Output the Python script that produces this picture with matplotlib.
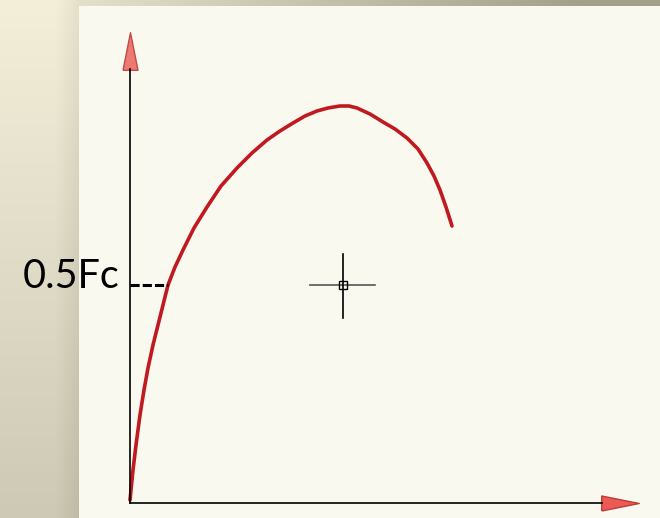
import numpy as np
import matplotlib
matplotlib.use("Agg")
import matplotlib.pyplot as plt
from matplotlib.patches import Rectangle

# stress-strain curve (units ~ pixels from the origin)
strain = [0, 1, 3, 6, 10, 14, 18, 23, 28, 33, 38, 45, 53, 64, 77, 91, 107, 122,
          137, 150, 163, 175, 187, 198, 210, 219, 227, 240, 253, 265, 277, 288,
          297, 304, 310, 316, 322]
stress = [3, 13, 33, 58, 88, 113, 135, 158, 178, 198, 218, 236, 253, 275, 296, 317,
          335, 350, 363, 372, 380, 387, 392, 395, 397, 397, 395, 389, 381, 374,
          365, 354, 340, 327, 313, 296, 277]

half_fc = 218          # 0.5Fc level
half_fc_strain = 38    # where the curve crosses it
label = "0.5Fc"
cursor = (213, 218)

W, H = 660, 518
fig = plt.figure(figsize=(W / 100, H / 100), dpi=100)

# background: beige gradient on the left, grey strip on top
bg = fig.add_axes([0, 0, 1, 1])
bg.set_axis_off()
yy, xx = np.mgrid[0:H, 0:W]
top = np.array([244, 239, 217]) / 255.0
bot = np.array([205, 201, 181]) / 255.0
t = (yy / H)[..., None]
img = top * (1 - t) + bot * t
shade = np.clip((xx - 55) / 24.0, 0, 1)[..., None] * 0.06
img = img - shade
strip = (yy < 6)[..., None] * np.clip((xx - 80) / 500.0, 0, 1)[..., None] * 0.25
img = np.clip(img - strip, 0, 1)
bg.imshow(img, extent=[0, W, 0, H], aspect="auto")
bg.add_patch(Rectangle((79, 0), W - 79, H - 6, facecolor="#f9f9ef", edgecolor="none"))
bg.set_xlim(0, W)
bg.set_ylim(0, H)

# main axes: origin at pixel (130, 503)
x0, y0 = 130, 503
ax = fig.add_axes([x0 / W, (H - y0) / H, (602 - x0) / W, (y0 - 69) / H])
ax.patch.set_visible(False)
ax.set_xlim(0, 602 - x0)
ax.set_ylim(0, y0 - 69)
for s in ["top", "right"]:
    ax.spines[s].set_visible(False)
for s in ["left", "bottom"]:
    ax.spines[s].set_color("black")
    ax.spines[s].set_linewidth(1.2)
ax.set_xticks([])
ax.set_yticks([])

# arrow heads
up = [(-0.2, -0.5), (0.2, -0.5), (0, 0.5), (-0.2, -0.5)]
right = [(-0.5, -0.2), (-0.5, 0.2), (0.5, 0), (-0.5, -0.2)]
ax.plot([0], [452], marker=up, markersize=27, markerfacecolor="#ec7a72",
        markeredgecolor="#c04a44", markeredgewidth=1, clip_on=False)
ax.plot([490], [0], marker=right, markersize=27, markerfacecolor="#ec5a56",
        markeredgecolor="#c03a36", markeredgewidth=1, clip_on=False)

# curve
ax.plot(strain, stress, color="#c01a20", lw=2.6, solid_capstyle="round",
        solid_joinstyle="round", clip_on=False)

# 0.5Fc marker
ax.plot([0, half_fc_strain], [half_fc, half_fc], color="black", lw=2.2,
        linestyle=(0, (3, 1)), clip_on=False)
ax.text(-10, half_fc + 8, label, fontsize=28.5, family=["Lato", "DejaVu Sans"],
        ha="right", va="center", color="black", clip_on=False)

# cursor crosshair
cx, cy = cursor
ax.plot([cx - 33, cx + 32], [cy, cy], color="#555555", lw=1.2)
ax.plot([cx, cx], [cy - 33, cy + 31], color="black", lw=1.2)
ax.plot([cx], [cy], marker="s", markersize=6, markerfacecolor="none",
        markeredgecolor="black", markeredgewidth=1)

fig.savefig("out.png", dpi=100)
